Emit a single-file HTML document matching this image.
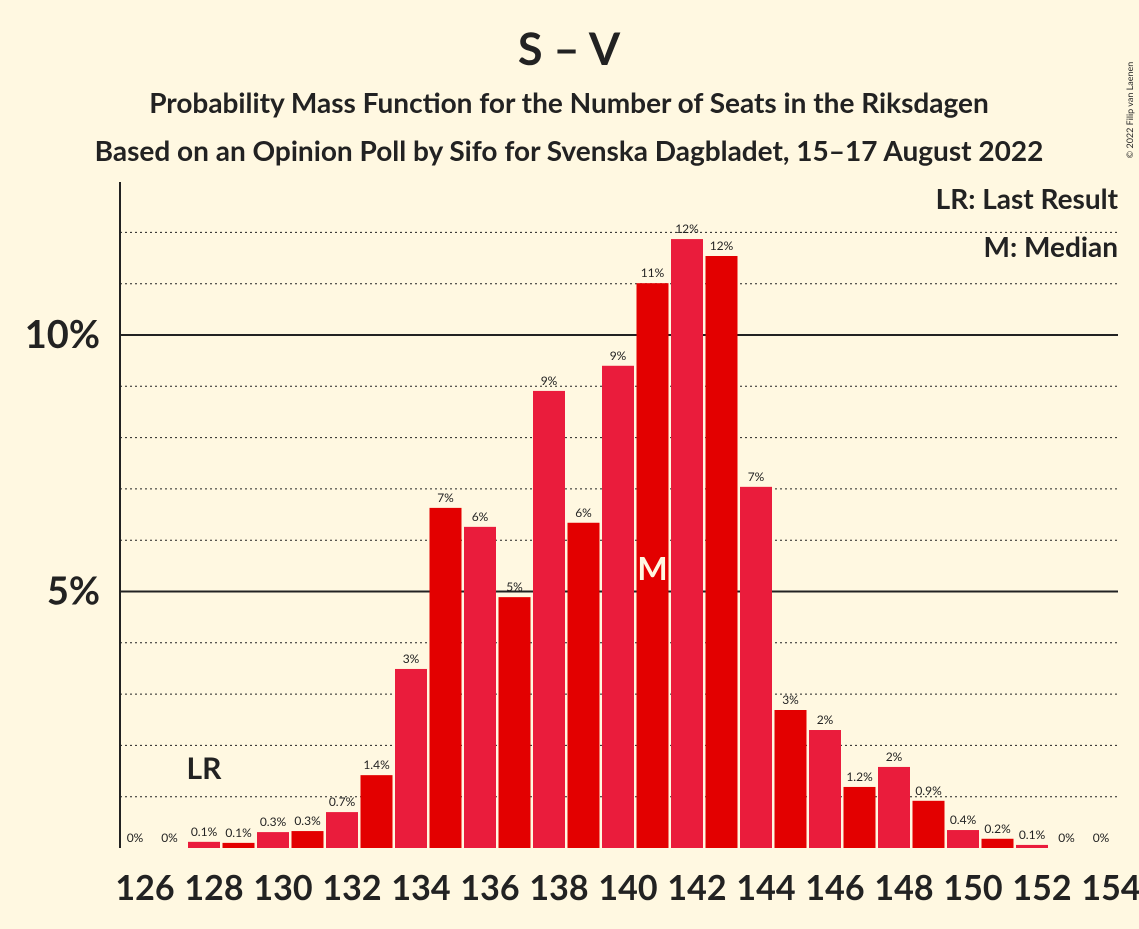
<!DOCTYPE html>
<html><head><meta charset="utf-8"><style>
body{margin:0;background:#fff8e1;}
svg text{font-family:"Lato","Liberation Sans",sans-serif;}
</style></head><body>
<svg id="c" width="1139" height="924" xmlns="http://www.w3.org/2000/svg">
<rect width="1139" height="924" fill="#fff8e1"/>
<text x="569" y="65" text-anchor="middle" font-size="45" font-weight="bold" fill="#222">S – V</text>
<text x="569" y="113" text-anchor="middle" font-size="28" font-weight="bold" fill="#222">Probability Mass Function for the Number of Seats in the Riksdagen</text>
<text x="569" y="161" text-anchor="middle" font-size="28" font-weight="bold" fill="#222">Based on an Opinion Poll by Sifo for Svenska Dagbladet, 15–17 August 2022</text>
<text x="1133" y="110" font-size="9" fill="#222" transform="rotate(-90 1133 110)" text-anchor="middle">© 2022 Filip van Laenen</text>
<g id="grid"></g>
<g id="bars"></g>
<line x1="120" y1="182" x2="120" y2="848" stroke="#222" stroke-width="2"/>
<text x="1118" y="209" text-anchor="end" font-size="28" font-weight="bold" fill="#222">LR: Last Result</text>
<text x="1118" y="257" text-anchor="end" font-size="28" font-weight="bold" fill="#222">M: Median</text>
</svg>
<script>
const seats=[126,127,128,129,130,131,132,133,134,135,136,137,138,139,140,141,142,143,144,145,146,147,148,149,150,151,152,153,154];
const probs=[0,0,0.12,0.1,0.31,0.33,0.7,1.42,3.49,6.63,6.26,4.89,8.91,6.34,9.4,11.01,11.87,11.54,7.04,2.69,2.3,1.19,1.58,0.92,0.35,0.18,0.06,0,0];
const labels=["0%","0%","0.1%","0.1%","0.3%","0.3%","0.7%","1.4%","3%","7%","6%","5%","9%","6%","9%","11%","12%","12%","7%","3%","2%","1.2%","2%","0.9%","0.4%","0.2%","0.1%","0%","0%"];
const yTicks=[5,10];
const lastResult=128, median=141;
const NS="http://www.w3.org/2000/svg";
const y=v=>848-v*51.3;
const x=s=>135+(s-126)*34.5;
const g=document.getElementById('grid'), b=document.getElementById('bars'), svg=document.getElementById('c');
function mk(t,a,p){const e=document.createElementNS(NS,t);for(const k in a)e.setAttribute(k,a[k]);p.appendChild(e);return e;}
for(let i=1;i<=12;i++){
 const solid=i%5===0;
 const l=mk('line',{x1:120,x2:1118,y1:y(i),y2:y(i),stroke:'#222','stroke-width':solid?2:1,'stroke-dasharray':solid?'none':'2,3'},g);
 
 
}
yTicks.forEach(t=>{
 const e=mk('text',{x:100,y:y(t)+13,'text-anchor':'end','font-size':38,'font-weight':'bold',fill:'#222'},svg);
 e.textContent=t+'%';
 
 
});
seats.forEach((s,i)=>{
 const v=probs[i];
 const r=mk('rect',{x:x(s)-16,y:y(v),width:32,height:848-y(v),fill:s%2===0?'#ea1c3c':'#e30000'},b);
 
 
 const t=mk('text',{x:x(s),y:y(v)-6,'text-anchor':'middle','font-size':12,fill:'#222'},b);
 t.textContent=labels[i];
 
 
 if(s%2===0){
  const xl=mk('text',{x:x(s)+10,y:900,'text-anchor':'middle','font-size':34,'font-weight':'bold',fill:'#222'},svg);
  xl.textContent=s;
  
  
 }
});
const m=mk('text',{x:x(median),y:580,'text-anchor':'middle','font-size':32,'font-weight':'bold',fill:'#fff8e1'},svg);
m.textContent='M';


const lr=mk('text',{x:x(lastResult),y:779,'text-anchor':'middle','font-size':30,'font-weight':'bold',fill:'#222'},svg);
lr.textContent='LR';


</script>
</body></html>
